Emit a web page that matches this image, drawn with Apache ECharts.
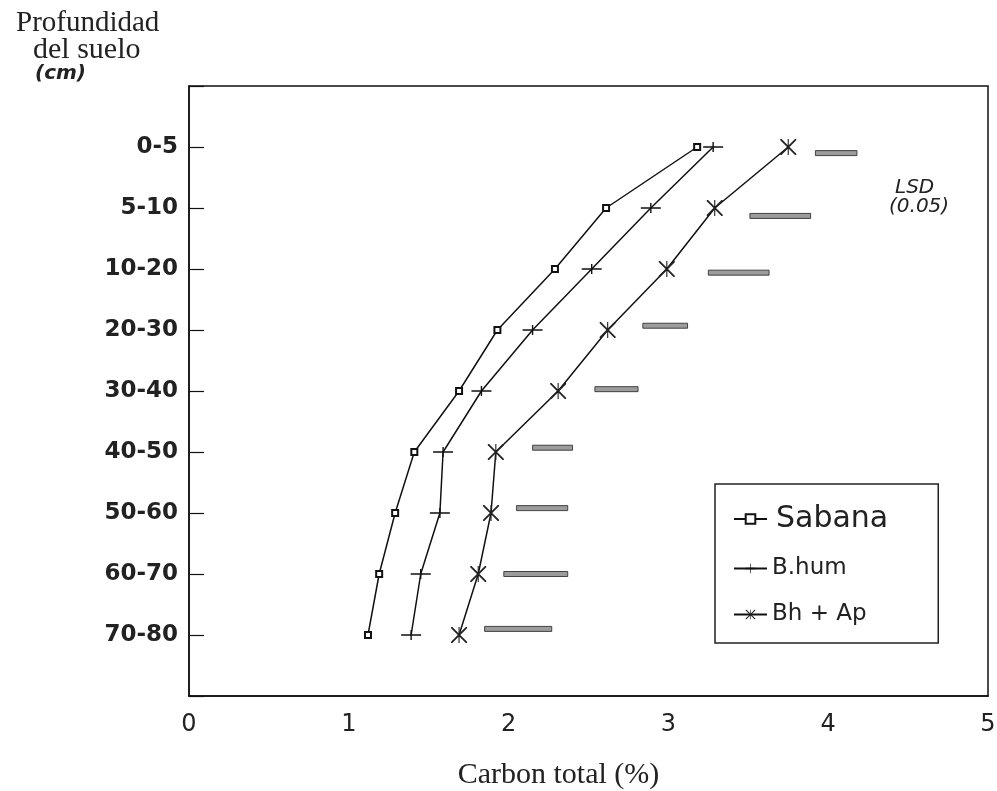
<!DOCTYPE html>
<html>
<head>
<meta charset="utf-8">
<script src="https://cdn.jsdelivr.net/npm/echarts@6/dist/echarts.min.js"></script>
<style>html,body{margin:0;padding:0;background:#fff;}#c{width:997px;height:791px;}</style>
</head>
<body>
<div id="c"></div>
<script>
// depth categories (y) and tick labels
const depths = ['0-5', '5-10', '10-20', '20-30', '30-40', '40-50', '50-60', '60-70', '70-80'];
const xTicks = [0, 1, 2, 3, 4, 5];
// total carbon (%) per depth
const sabana = [3.18, 2.61, 2.29, 1.93, 1.69, 1.41, 1.29, 1.19, 1.12];
const bhum   = [3.28, 2.89, 2.52, 2.15, 1.83, 1.59, 1.57, 1.45, 1.39];
const bhAp   = [3.75, 3.29, 2.99, 2.62, 2.31, 1.92, 1.89, 1.81, 1.69];
// LSD (0.05) bars: start, end, vertical position (depth index)
const lsdStart = [3.92, 3.51, 3.25, 2.84, 2.54, 2.15, 2.05, 1.97, 1.85];
const lsdEnd   = [4.18, 3.89, 3.63, 3.12, 2.81, 2.40, 2.37, 2.37, 2.27];
const lsdPos   = [0.10, 1.13, 2.06, 2.93, 3.97, 4.93, 5.92, 7.00, 7.90];

const plusPath = 'path://M0,4.3H20V5.7H0Z M9.3,0H10.7V10H9.3Z';
const starPath = 'path://M0,0L1.6,0L20,18.4L20,20L18.4,20L0,1.6Z M20,0L20,1.6L1.6,20L0,20L0,18.4L18.4,0Z M9.3,0H10.7V20H9.3Z';

function pts(vals) { return vals.map((v, i) => [v, i]); }

const chart = echarts.init(document.getElementById('c'), null, {renderer: 'canvas'});
const sans = 'DejaVu Sans';
const serif = 'Liberation Serif';

chart.setOption({
  backgroundColor: '#fff',
  animation: false,
  grid: { left: 189, right: 9, top: 86, bottom: 95, containLabel: false, outerBoundsMode: 'none',
    show: true, borderColor: '#111', borderWidth: 1.5, backgroundColor: 'transparent' },
  xAxis: {
    type: 'value', min: 0, max: 5, interval: 1,
    axisLine: { show: true, onZero: false, lineStyle: { color: '#111', width: 1.5 } },
    axisTick: { show: false },
    splitLine: { show: false },
    axisLabel: { margin: 17, fontFamily: sans, fontSize: 24, color: '#222',
      formatter: v => xTicks.indexOf(v) >= 0 ? String(v) : '' },
    name: 'Carbon total (%)', nameLocation: 'middle', nameGap: 64,
    nameTextStyle: { fontFamily: serif, fontSize: 30, color: '#222', padding: [0, 60, 0, 0] }
  },
  yAxis: {
    type: 'value', inverse: true, min: -1, max: 9, interval: 1,
    axisLine: { show: true, onZero: false, lineStyle: { color: '#111', width: 1.5 } },
    axisTick: { show: true, inside: true, length: 15, lineStyle: { color: '#111', width: 1.2 } },
    splitLine: { show: false },
    axisLabel: { margin: 11, fontFamily: sans, fontWeight: 'bold', fontSize: 23, color: '#222',
      formatter: v => (v >= 0 && v < depths.length) ? depths[v] : '' }
  },
  legend: {
    orient: 'vertical', left: 715, top: 484,
    padding: [20, 50, 17, 18], itemGap: 23, itemWidth: 33, itemHeight: 12,
    borderColor: '#222', borderWidth: 1.5, backgroundColor: '#fff',
    data: ['Sabana', 'B.hum', 'Bh + Ap'],
    formatter: n => n === 'Sabana' ? '{big|' + n + '}' : '{small|' + n + '}',
    textStyle: {
      color: '#222',
      rich: {
        big: { fontFamily: sans, fontSize: 30, lineHeight: 36, color: '#222', padding: [0, 0, 0, 4] },
        small: { fontFamily: sans, fontSize: 23, lineHeight: 30, color: '#222' }
      }
    }
  },
  graphic: [
    { type: 'text', x: 16, y: 23, style: { text: 'Profundidad', font: '29px "Liberation Serif"', fill: '#222', align: 'left', verticalAlign: 'middle' } },
    { type: 'text', x: 33, y: 50, style: { text: 'del suelo', font: '30px "Liberation Serif"', fill: '#222', align: 'left', verticalAlign: 'middle' } },
    { type: 'text', x: 35, y: 74, style: { text: '(cm)', font: 'italic bold 20px "DejaVu Sans"', fill: '#222', align: 'left', verticalAlign: 'middle' } },
    { type: 'text', x: 895, y: 188, style: { text: 'LSD', font: 'italic 20px "DejaVu Sans"', fill: '#222', align: 'left', verticalAlign: 'middle' } },
    { type: 'text', x: 889, y: 207, style: { text: '(0.05)', font: 'italic 20px "DejaVu Sans"', fill: '#222', align: 'left', verticalAlign: 'middle' } }
  ],
  series: [
    {
      name: 'Sabana', type: 'line', data: pts(sabana),
      symbol: 'emptyRect', symbolSize: 6,
      lineStyle: { color: '#111', width: 1.5 },
      itemStyle: { color: '#111', borderColor: '#111', borderWidth: 1.3 }
    },
    {
      name: 'B.hum', type: 'line', data: pts(bhum),
      symbol: plusPath, symbolSize: [20, 10],
      lineStyle: { color: '#111', width: 1.5 },
      itemStyle: { color: '#111' }
    },
    {
      name: 'Bh + Ap', type: 'line', data: pts(bhAp),
      symbol: starPath, symbolSize: 16,
      lineStyle: { color: '#111', width: 1.5 },
      itemStyle: { color: '#222' }
    },
    {
      name: 'LSD', type: 'custom',
      data: lsdStart.map((s, i) => [s, lsdEnd[i], lsdPos[i]]),
      encode: { x: [0, 1], y: 2 },
      renderItem: function (params, api) {
        const p1 = api.coord([api.value(0), api.value(2)]);
        const p2 = api.coord([api.value(1), api.value(2)]);
        return {
          type: 'rect',
          shape: { x: p1[0], y: p1[1] - 2.5, width: p2[0] - p1[0], height: 5 },
          style: { fill: '#9c9c9c', stroke: '#333', lineWidth: 0.9 }
        };
      }
    }
  ]
});
</script>
</body>
</html>
